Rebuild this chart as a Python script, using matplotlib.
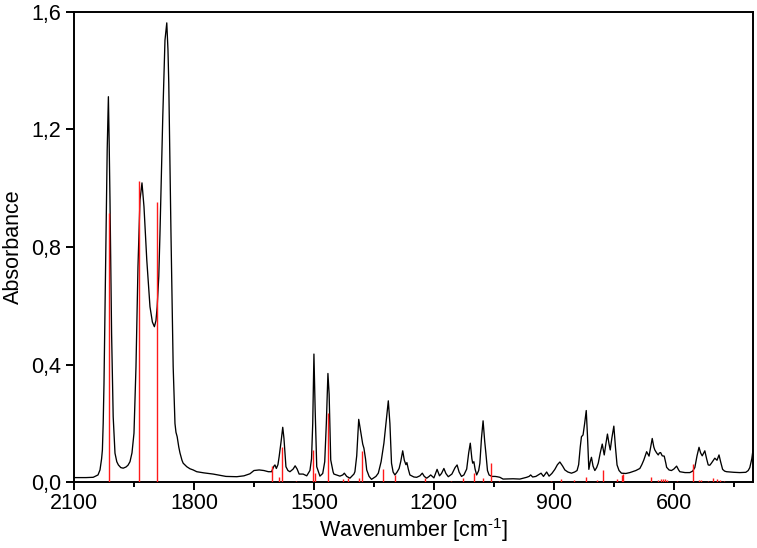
import matplotlib
matplotlib.use("Agg")
import matplotlib.pyplot as plt
from matplotlib.ticker import FuncFormatter, FixedLocator

plt.rcParams['font.family'] = ['Liberation Sans', 'DejaVu Sans']
plt.rcParams['mathtext.fontset'] = 'custom'
plt.rcParams['mathtext.rm'] = 'Liberation Sans'
plt.rcParams['mathtext.it'] = 'Liberation Sans:italic'

wavenumber = [2100, 2070, 2052, 2040, 2035, 2031, 2029, 2027, 2025, 2021, 2017, 2014, 2012, 2010,
              2006, 2002, 1997.5, 1993, 1989, 1983, 1977, 1970, 1965, 1960, 1955, 1950, 1945,
              1940, 1935, 1930, 1925, 1918, 1910, 1904, 1899, 1895, 1892, 1888, 1885, 1878,
              1872.5, 1868, 1865, 1863, 1857.5, 1852, 1847.5, 1845, 1842, 1838, 1835, 1830,
              1827, 1822.5, 1818, 1810, 1802, 1793, 1775, 1752, 1720, 1693, 1675, 1660, 1650,
              1637, 1625, 1614, 1606, 1600, 1597.5, 1594, 1590, 1587, 1582, 1578, 1575, 1570,
              1565, 1560, 1552, 1547, 1542, 1537, 1527, 1518, 1510, 1506, 1503, 1500, 1497,
              1493, 1485, 1478, 1473, 1469, 1465, 1462, 1458, 1452, 1450, 1435, 1428, 1424,
              1418, 1410, 1400, 1397.5, 1393, 1388, 1384, 1378, 1375, 1371, 1368, 1362, 1356,
              1345, 1339, 1332, 1325, 1320, 1314, 1310, 1306, 1302, 1297.5, 1292, 1287, 1283,
              1278, 1274, 1270, 1267.5, 1264, 1260, 1250, 1243, 1235, 1229, 1224, 1218, 1212,
              1208, 1200, 1196, 1192, 1186, 1181, 1175, 1170, 1164, 1155, 1147, 1142, 1137,
              1131, 1125, 1118, 1113, 1109, 1105, 1103, 1100, 1097, 1093, 1088, 1085, 1081,
              1077, 1073, 1070, 1066, 1062, 1055, 1047, 1042, 1035, 1027, 1002, 985, 968, 962,
              958, 953, 945, 939, 932, 926, 918, 912, 905, 897.5, 891, 885, 878, 872.5, 865,
              856, 848, 842, 838, 834, 831, 827, 823, 819, 816, 812.5, 809, 806, 802, 797.5,
              793, 789, 784, 779, 774, 770, 766, 762, 759, 755, 750, 746, 742, 737, 731, 720,
              710, 695, 685, 680, 675, 668, 662, 658, 654, 650, 647.5, 643, 639, 636, 633,
              629, 624, 620, 618, 612, 606, 600, 593, 588, 585, 572, 560, 553, 547.5, 542,
              537, 533, 529, 525, 522.5, 518, 514, 510, 506, 501, 497.5, 492, 487, 483, 478,
              473, 468, 450, 435, 420, 414, 410, 405, 402]
absorbance = [0.016, 0.016, 0.017, 0.025, 0.042, 0.08, 0.11, 0.2, 0.336, 0.733, 1.13, 1.311, 1.15, 0.96,
              0.506, 0.223, 0.099, 0.07, 0.059, 0.05, 0.048, 0.052, 0.058, 0.07, 0.1, 0.167, 0.393,
              0.733, 0.96, 1.018, 0.937, 0.756, 0.597, 0.545, 0.529, 0.55, 0.597, 0.7, 0.846, 1.243,
              1.503, 1.562, 1.47, 1.356, 0.846, 0.393, 0.2, 0.17, 0.155, 0.12, 0.1, 0.075,
              0.065, 0.059, 0.053, 0.046, 0.042, 0.036, 0.032, 0.028, 0.02, 0.019, 0.022, 0.029, 0.04,
              0.042, 0.04, 0.036, 0.036, 0.055, 0.059, 0.047, 0.06, 0.087, 0.14, 0.187, 0.15, 0.053,
              0.04, 0.036, 0.045, 0.056, 0.045, 0.028, 0.028, 0.022, 0.04, 0.08, 0.2, 0.436, 0.25,
              0.053, 0.021, 0.03, 0.07, 0.2, 0.37, 0.3, 0.076, 0.035, 0.028, 0.021, 0.025, 0.031,
              0.02, 0.014, 0.028, 0.036, 0.09, 0.214, 0.18, 0.13, 0.116, 0.08, 0.042, 0.02, 0.01,
              0.02, 0.031, 0.07, 0.133, 0.2, 0.277, 0.2, 0.065, 0.035, 0.025, 0.035, 0.047, 0.07,
              0.107, 0.075, 0.06, 0.067, 0.045, 0.025, 0.018, 0.017, 0.022, 0.031, 0.02, 0.014, 0.02,
              0.025, 0.015, 0.03, 0.044, 0.022, 0.03, 0.047, 0.03, 0.019, 0.028, 0.05, 0.059, 0.035,
              0.02, 0.025, 0.045, 0.1, 0.133, 0.08, 0.065, 0.07, 0.045, 0.025, 0.04, 0.065, 0.15,
              0.209, 0.14, 0.099, 0.04, 0.025, 0.02, 0.02, 0.019, 0.017, 0.011, 0.012, 0.011, 0.017, 0.02,
              0.025, 0.018, 0.02, 0.025, 0.031, 0.02, 0.035, 0.021, 0.03, 0.044, 0.06, 0.069, 0.055, 0.042, 0.035,
              0.031, 0.035, 0.04, 0.06, 0.12, 0.155, 0.161, 0.2, 0.244, 0.16, 0.044, 0.07, 0.085, 0.055, 0.04,
              0.05, 0.065, 0.1, 0.13, 0.093, 0.13, 0.164, 0.13, 0.11, 0.15, 0.191, 0.12, 0.059, 0.04, 0.031, 0.03,
              0.033, 0.04, 0.047, 0.06, 0.076, 0.104, 0.089, 0.12, 0.149, 0.12, 0.11, 0.1, 0.093, 0.1, 0.101,
              0.09, 0.089, 0.065, 0.051, 0.042, 0.04, 0.045, 0.055, 0.042, 0.036, 0.033, 0.033, 0.038, 0.05, 0.09,
              0.119, 0.1, 0.09, 0.1, 0.107, 0.08, 0.059, 0.058, 0.065, 0.075, 0.082, 0.075, 0.093, 0.07, 0.044,
              0.038, 0.036, 0.034, 0.033, 0.034, 0.04, 0.05, 0.08, 0.11]

# Calculated stick spectrum (red lines)
stick_wavenumber = [2012.5, 1938, 1892.5, 1604, 1588, 1580, 1545, 1502, 1497.5, 1464, 1428, 1414,
                    1387, 1381, 1327, 1297.5, 1221, 1158, 1128, 1100, 1077, 1057.5, 1037, 906,
                    883, 850, 820, 791, 778, 741, 730, 726, 656, 639, 633, 628, 622, 617, 593,
                    553, 537, 531, 514, 503, 493, 485, 475]
stick_intensity = [0.914, 1.024, 0.954, 0.055, 0.018, 0.121, 0.006, 0.11, 0.03, 0.234, 0.01, 0.013,
                   0.015, 0.106, 0.046, 0.024, 0.013, 0.004, 0.013, 0.03, 0.014, 0.066, 0.005, 0.005,
                   0.01, 0.008, 0.018, 0.009, 0.043, 0.012, 0.026, 0.028, 0.017, 0.009, 0.012, 0.012,
                   0.01, 0.008, 0.004, 0.062, 0.009, 0.009, 0.006, 0.016, 0.01, 0.007, 0.006]

major_ticks = [2100, 1800, 1500, 1200, 900, 600]
minor_ticks = [1950, 1650, 1350, 1050, 750, 450]
y_ticks = [0.0, 0.4, 0.8, 1.2, 1.6]

fig = plt.figure(figsize=(7.57, 5.48), dpi=100)
ax = fig.add_axes([74 / 757, 1 - 482.3 / 548, (753 - 74) / 757, (482.3 - 11.7) / 548])

ax.plot(wavenumber, absorbance, color='black', lw=0.95, zorder=2)
ax.vlines(stick_wavenumber, 0, stick_intensity, colors='#ff1a1a', lw=1.0, zorder=3)

ax.set_xlim(2100, 402)
ax.set_ylim(0, 1.6)

ax.xaxis.set_major_locator(FixedLocator(major_ticks))
ax.xaxis.set_minor_locator(FixedLocator(minor_ticks))
ax.yaxis.set_major_locator(FixedLocator(y_ticks))
ax.yaxis.set_major_formatter(FuncFormatter(lambda v, p: f"{v:.1f}".replace('.', ',')))

for s in ax.spines.values():
    s.set_linewidth(1.4)

ax.tick_params(axis='both', which='major', direction='out', length=6, width=1.4,
               labelsize=15.5, colors='black')
ax.tick_params(axis='x', which='major', pad=2)
ax.tick_params(axis='y', which='major', pad=3)
ax.tick_params(axis='x', which='minor', direction='out', length=3.5, width=1.4)
ax.tick_params(top=False, right=False)

ax.set_xlabel(r'Wavenumber [cm$^{\text{-1}}$]', fontsize=15.5, labelpad=1)
ax.set_ylabel('Absorbance', fontsize=15.5, labelpad=5)

fig.savefig('out.png', dpi=100)
